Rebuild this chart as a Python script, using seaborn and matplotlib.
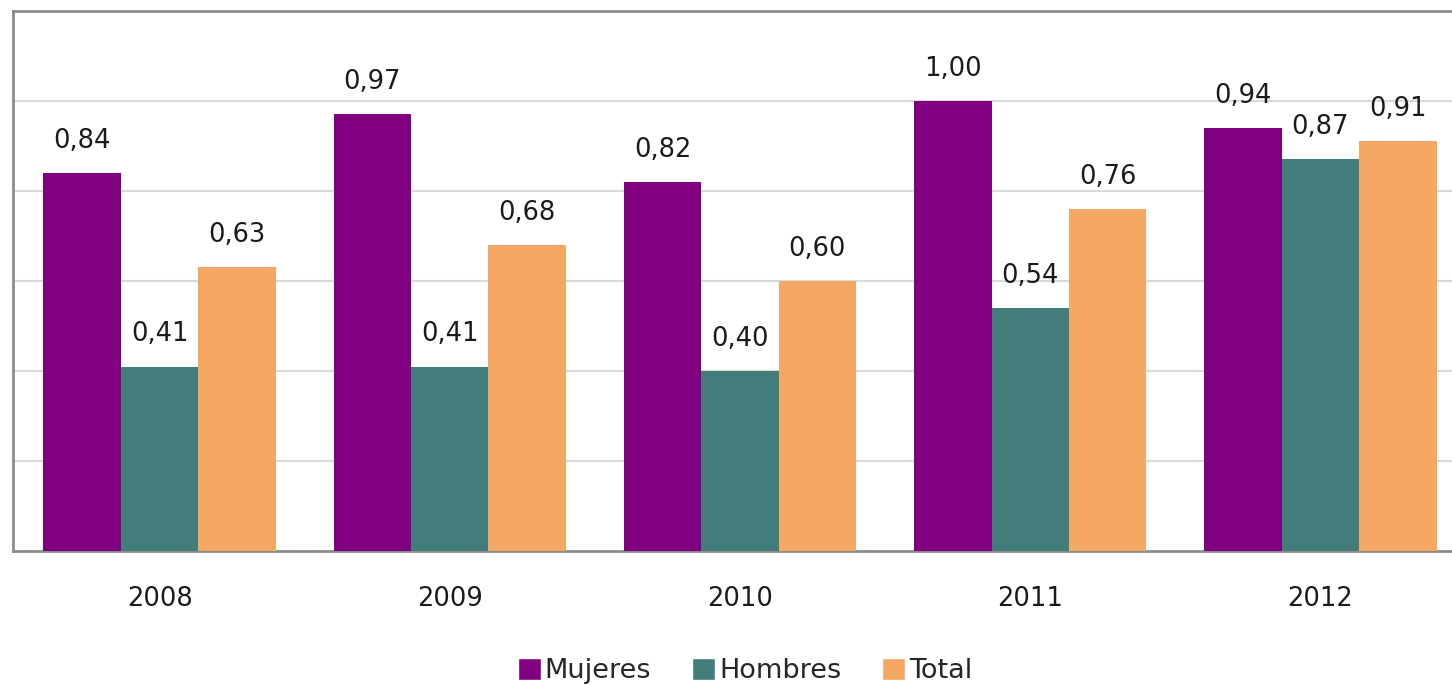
import pandas as pd
import seaborn as sns
import matplotlib.pyplot as plt
from matplotlib.patches import Patch

# datos
years = ['2008', '2009', '2010', '2011', '2012']
mujeres = [0.84, 0.97, 0.82, 1.00, 0.94]
hombres = [0.41, 0.41, 0.40, 0.54, 0.87]
total = [0.63, 0.68, 0.60, 0.76, 0.91]
grupos = ['Mujeres', 'Hombres', 'Total']
colores = ['#800080', '#427D7C', '#F5A864']

df = pd.DataFrame({
    'year': years * 3,
    'valor': mujeres + hombres + total,
    'grupo': [g for g in grupos for _ in years],
})

sns.set_style('white')
plt.rcParams['font.family'] = ['DejaVu Sans']

fig = plt.figure(figsize=(14.52, 6.85), dpi=100)
W, H = 1452, 685
ax = fig.add_axes([13 / W, (H - 551) / H, 1454 / W, 540 / H])

sns.barplot(data=df, x='year', y='valor', hue='grupo', palette=colores,
            saturation=1, width=0.8, legend=False, ax=ax, zorder=3,
            linewidth=0, edgecolor='none')

for cont in ax.containers:
    vals = [b.get_height() for b in cont]
    ax.bar_label(cont, labels=[f'{v:.2f}'.replace('.', ',') for v in vals],
                 padding=14, fontsize=18.5, color='#1a1a1a')

ax.set_ylim(0, 1.2)
ax.set_xlim(-0.505, 4.505)
ax.set_yticks([0.2, 0.4, 0.6, 0.8, 1.0])
ax.set_yticklabels([])
ax.yaxis.grid(True, color='#D9D9D9', linewidth=1.5, zorder=0)
ax.tick_params(axis='both', length=0)
ax.tick_params(axis='x', labelsize=18.5, pad=25, labelcolor='#1a1a1a')
ax.set_xlabel('')
ax.set_ylabel('')

for s in ['left', 'top', 'bottom']:
    ax.spines[s].set_color('#8C8C8C')
    ax.spines[s].set_linewidth(2)
ax.spines['right'].set_visible(False)

handles = [Patch(facecolor=c, label=g) for g, c in zip(grupos, colores)]
fig.legend(handles=handles, loc='center', bbox_to_anchor=(745 / W, (H - 671) / H),
           ncol=3, frameon=False, fontsize=19.5, handlelength=0.85, handleheight=0.85,
           handletextpad=0.15, columnspacing=1.5)

fig.savefig('out.png', dpi=100)
